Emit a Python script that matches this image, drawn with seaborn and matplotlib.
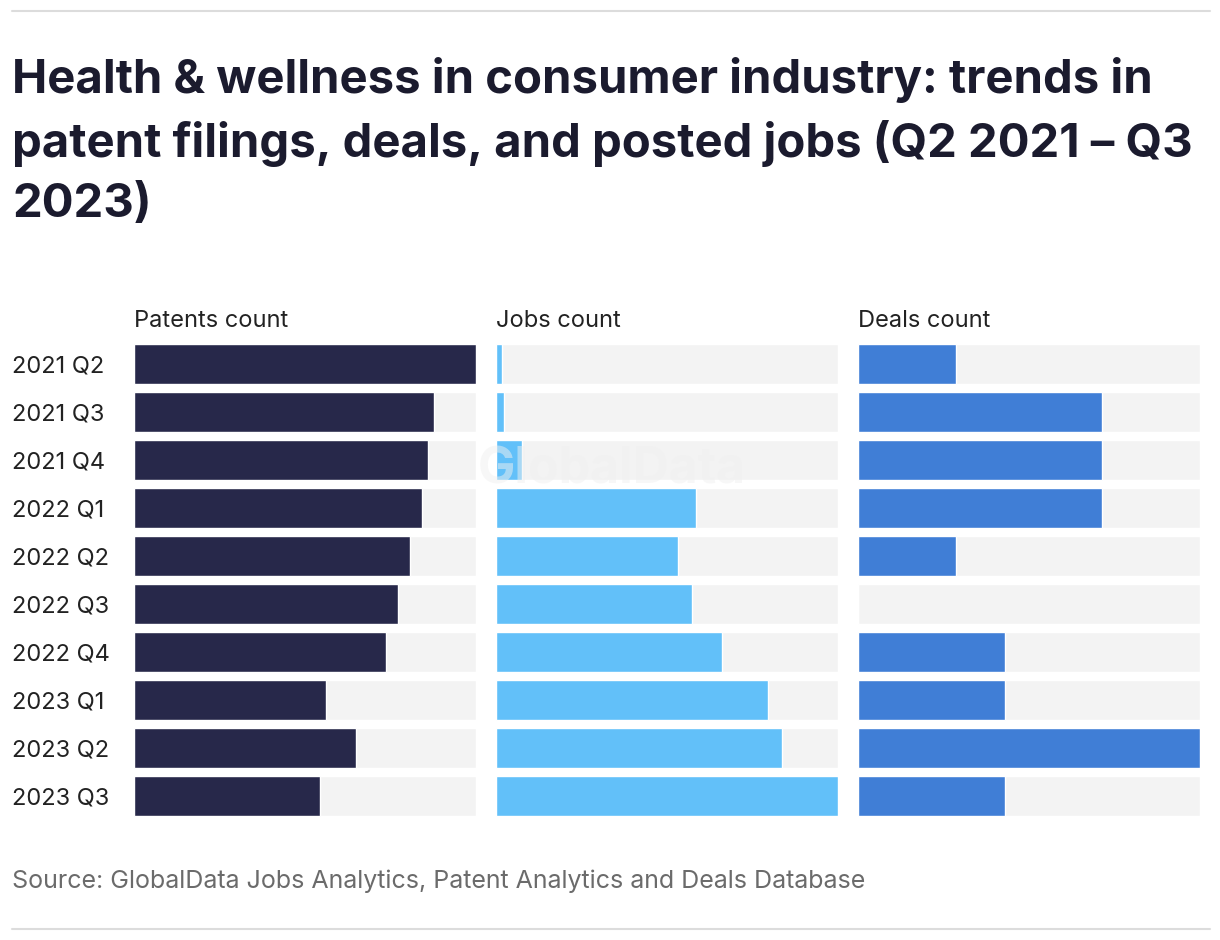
import numpy as np
import pandas as pd
import seaborn as sns
import matplotlib.pyplot as plt

# quarters and counts
quarters = ['2021 Q2', '2021 Q3', '2021 Q4', '2022 Q1', '2022 Q2',
            '2022 Q3', '2022 Q4', '2023 Q1', '2023 Q2', '2023 Q3']
patents = [57, 50, 49, 48, 46, 44, 42, 32, 37, 31]
jobs = [3, 4, 13, 100, 91, 98, 113, 136, 143, 171]
deals = [2, 5, 5, 5, 2, 0, 3, 3, 7, 3]

panel_titles = ['Patents count', 'Jobs count', 'Deals count']
colors = ['#27284a', '#62c0f9', '#407ed6']
bg_color = '#f3f3f3'

sns.set_theme(style='white')
plt.rcParams['font.family'] = ['Inter', 'DejaVu Sans']

fig = plt.figure(figsize=(12.2, 9.4), dpi=100)

lefts = [134 / 1220, 496 / 1220, 858 / 1220]
width = 342 / 1220
bottom = 1 - 820 / 940
height = 480 / 940

series = [patents, jobs, deals]
for i, (vals, name, col) in enumerate(zip(series, panel_titles, colors)):
    ax = fig.add_axes([lefts[i], bottom, width, height])
    df = pd.DataFrame({'quarter': quarters, 'value': vals})
    df['max'] = max(vals)
    sns.barplot(data=df, y='quarter', x='max', color=bg_color, width=0.833,
                saturation=1, ax=ax, orient='h')
    sns.barplot(data=df, y='quarter', x='value', color=col, width=0.833,
                saturation=1, ax=ax, orient='h')
    ax.set_xlim(0, max(vals))
    ax.set_ylim(9.5, -0.5)
    ax.set_xlabel('')
    ax.set_ylabel('')
    ax.set_xticks([])
    for s in ax.spines.values():
        s.set_visible(False)
    if i == 0:
        # left-aligned labels starting near the figure edge
        ax.tick_params(axis='y', length=0, pad=88, labelsize=17, labelcolor='#222222')
        for lab in ax.get_yticklabels():
            lab.set_horizontalalignment('left')
    else:
        ax.set_yticks([])
    ax.text(0, 1.0 + 8 / 480, name, transform=ax.transAxes, fontsize=17,
            color='#222222', ha='left', va='bottom')

# watermark
fig.text(612 / 1220, 1 - 470 / 940, 'GlobalData', fontsize=36, fontweight='bold',
         color='#f0f0f0', alpha=0.5, ha='center', va='center')

fig.text(12 / 1220, 1 - 142 / 940,
         'Health & wellness in consumer industry: trends in\n'
         'patent filings, deals, and posted jobs (Q2 2021 \u2013 Q3\n'
         '2023)',
         fontsize=34, fontweight='bold', color='#1b1b2e', ha='left', va='center',
         linespacing=1.47)

fig.text(12 / 1220, 1 - 881 / 940,
         'Source: GlobalData Jobs Analytics, Patent Analytics and Deals Database',
         fontsize=18, color='#6b6b6b', ha='left', va='center')

fig.add_artist(plt.Line2D([12 / 1220, 1210 / 1220], [1 - 11 / 940, 1 - 11 / 940],
                          color='#dcdcdc', lw=1.5))
fig.add_artist(plt.Line2D([12 / 1220, 1210 / 1220], [1 - 929 / 940, 1 - 929 / 940],
                          color='#dcdcdc', lw=1.5))

fig.savefig('out.png', dpi=100)
